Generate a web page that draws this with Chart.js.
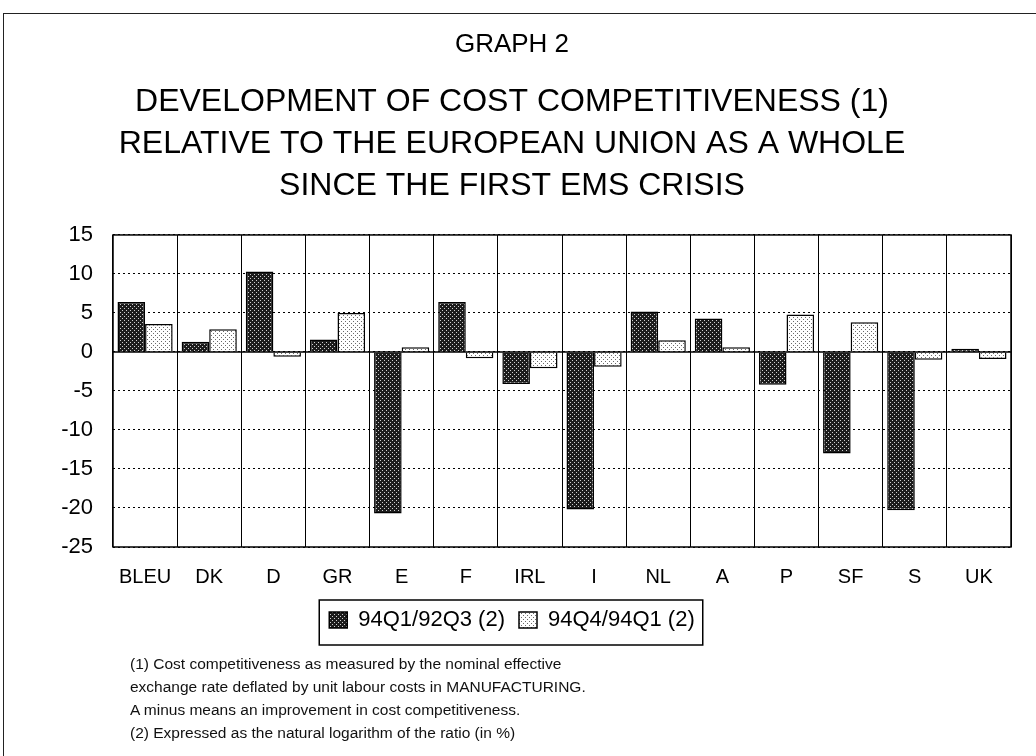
<!DOCTYPE html>
<html>
<head>
<meta charset="utf-8">
<script src="https://cdn.jsdelivr.net/npm/chart.js@4.4.0/dist/chart.umd.min.js"></script>
<style>
  html, body { margin: 0; padding: 0; background: #fff; }
  #wrap { position: relative; width: 1036px; height: 756px; overflow: hidden; font-family: "Liberation Sans", Arial, sans-serif; }
  #frame { position: absolute; left: 3px; top: 13px; width: 1100px; height: 800px; border-left: 1.5px solid #222; border-top: 1.5px solid #222; }
  #chart { position: absolute; left: 0; top: 0; }
  #notes { position: absolute; left: 130px; top: 652px; font-size: 15.5px; line-height: 23px; color: #111; }
</style>
</head>
<body>
<div id="wrap">
  <div id="frame"></div>
  <canvas id="chart" width="1036" height="660"></canvas>
  <div id="notes">
    (1) Cost competitiveness as measured by the nominal effective<br>
    exchange rate deflated by unit labour costs in MANUFACTURING.<br>
    A minus means an improvement in cost competitiveness.<br>
    (2) Expressed as the natural logarithm of the ratio (in %)
  </div>
</div>
<script>
// Chart data
const countries = ["BLEU", "DK", "D", "GR", "E", "F", "IRL", "I", "NL", "A", "P", "SF", "S", "UK"]
const since92q3 = [6.4, 1.3, 10.3, 1.6, -20.7, 6.4, -4.1, -20.2, 5.2, 4.3, -4.2, -13.0, -20.3, 0.4]
const since94q1 = [3.6, 2.9, -0.6, 5.0, 0.6, -0.8, -2.1, -1.9, 1.5, 0.6, 4.8, 3.8, -1.0, -0.9]
const seriesLabels = ["94Q1/92Q3 (2)", "94Q4/94Q1 (2)"]
const yMin = -25
const yMax = 15
const yStep = 5

const titleText = "GRAPH 2"
const subtitleLines = [
  "DEVELOPMENT OF COST COMPETITIVENESS (1)",
  "RELATIVE TO THE EUROPEAN UNION AS A WHOLE",
  "SINCE THE FIRST EMS CRISIS",
]

const FONT = "'Liberation Sans', Arial, sans-serif"

// Dotted fills like the printed screen tones
function makePattern(bg, dot, dots) {
  const tile = document.createElement("canvas")
  tile.width = 4
  tile.height = 4
  const t = tile.getContext("2d")
  t.fillStyle = bg
  t.fillRect(0, 0, 4, 4)
  t.fillStyle = dot
  dots.forEach(([x, y]) => t.fillRect(x, y, 1, 1))
  return t.createPattern(tile, "repeat")
}

const darkFill = makePattern("#1c1c1c", "#cfcfcf", [[0, 0], [2, 2]])
const lightFill = makePattern("#ffffff", "#6a6a6a", [[1, 1], [3, 3]])

// Plot frame + solid zero line + box round the legend
const framePlugin = {
  id: "framePlugin",
  afterDatasetsDraw(chart) {
    const { ctx, chartArea: a, scales } = chart
    ctx.save()
    ctx.strokeStyle = "#000"
    ctx.lineWidth = 1.5
    const y0 = scales.y.getPixelForValue(0)
    ctx.beginPath()
    ctx.moveTo(a.left, y0)
    ctx.lineTo(a.right, y0)
    ctx.stroke()
    ctx.strokeRect(a.left, a.top, a.right - a.left, a.bottom - a.top)
    ctx.restore()
  },
  afterDraw(chart) {
    const boxes = chart.legend && chart.legend.legendHitBoxes
    if (!boxes || !boxes.length) return
    const { ctx } = chart
    const first = boxes[0]
    const last = boxes[boxes.length - 1]
    ctx.save()
    ctx.strokeStyle = "#000"
    ctx.lineWidth = 1.5
    ctx.strokeRect(first.left - 10, first.top - 9, last.left + last.width - first.left + 18, first.height + 23)
    ctx.restore()
  },
}

new Chart(document.getElementById("chart"), {
  type: "bar",
  data: {
    labels: countries,
    datasets: [
      {
        label: seriesLabels[0],
        data: since92q3,
        backgroundColor: darkFill,
        borderColor: "#000",
        borderWidth: 1.5,
      },
      {
        label: seriesLabels[1],
        data: since94q1,
        backgroundColor: lightFill,
        borderColor: "#000",
        borderWidth: 1.5,
      },
    ],
  },
  options: {
    responsive: false,
    animation: false,
    layout: { padding: { top: 13, left: 13, right: 25, bottom: 19 } },
    datasets: { bar: { categoryPercentage: 0.86, barPercentage: 1.0 } },
    plugins: {
      title: {
        display: true,
        text: titleText,
        color: "#000",
        font: { family: FONT, size: 26, weight: "normal" },
        padding: { top: 16, bottom: 21 },
      },
      subtitle: {
        display: true,
        text: subtitleLines,
        color: "#000",
        font: { family: FONT, size: 32, weight: "normal", lineHeight: 1.31 },
        padding: { top: 0, bottom: 28 },
      },
      legend: {
        display: true,
        position: "bottom",
        labels: {
          color: "#000",
          font: { family: FONT, size: 22 },
          boxWidth: 18,
          boxHeight: 16,
          padding: 14,
        },
      },
      tooltip: { enabled: false },
    },
    scales: {
      x: {
        offset: true,
        afterFit(scale) { scale.height = scale.height - 12 },
        grid: { display: true, offset: true, color: "#000", lineWidth: 1, drawTicks: false },
        border: { display: false },
        ticks: { color: "#000", font: { family: FONT, size: 20 }, padding: 18, maxRotation: 0, autoSkip: false },
      },
      y: {
        min: yMin,
        max: yMax,
        afterFit(scale) { scale.width = 100 },
        grid: { color: "#000", lineWidth: 1, drawTicks: false },
        border: { display: false, dash: [2, 3] },
        ticks: { stepSize: yStep, color: "#000", font: { family: FONT, size: 22 }, padding: 20 },
      },
    },
  },
  plugins: [framePlugin],
})
</script>
</body>
</html>
